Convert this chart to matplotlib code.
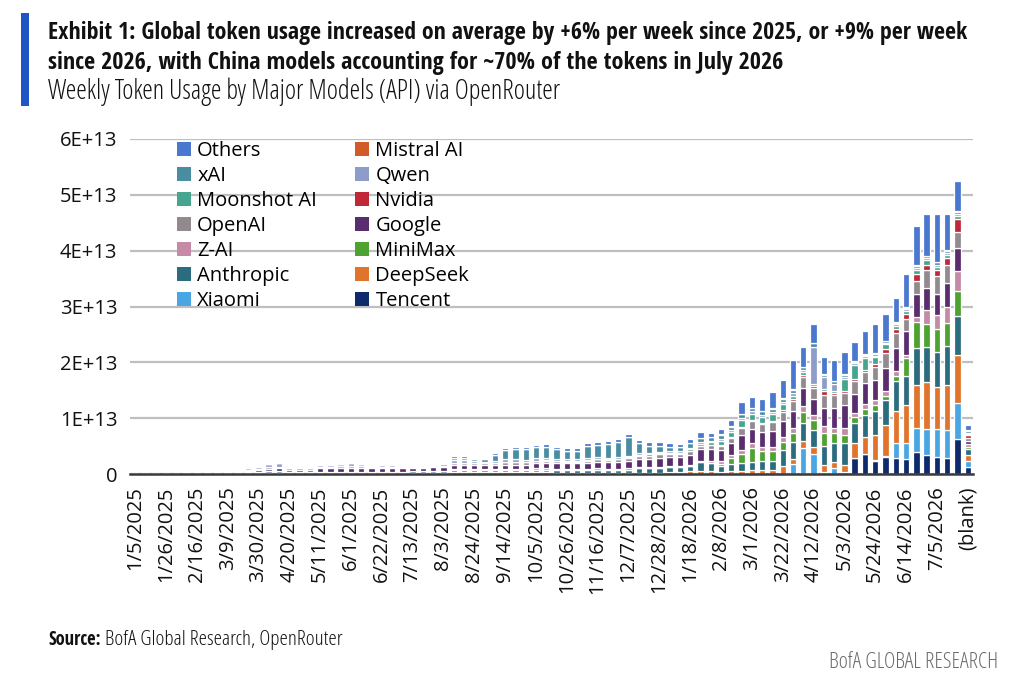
import numpy as np
import pandas as pd
import matplotlib
matplotlib.use("Agg")
import matplotlib.pyplot as plt
import matplotlib.font_manager as fm
from matplotlib.font_manager import FontProperties
from matplotlib.patches import Patch, Rectangle

# ---------------- data (units: 1E+12 tokens) ----------------
categories = [d.strftime('%-m/%-d/%Y') for d in pd.date_range('2025-01-05', periods=81, freq='7D')] + ['(blank)']

tick_labels = ['1/5/2025', '1/26/2025', '2/16/2025', '3/9/2025', '3/30/2025', '4/20/2025', '5/11/2025',
               '6/1/2025', '6/22/2025', '7/13/2025', '8/3/2025', '8/24/2025', '9/14/2025', '10/5/2025',
               '10/26/2025', '11/16/2025', '12/7/2025', '12/28/2025', '1/18/2026', '2/8/2026', '3/1/2026',
               '3/22/2026', '4/12/2026', '5/3/2026', '5/24/2026', '6/14/2026', '7/5/2026', '(blank)']

tencent = [0]*70 + [2.9, 3.5, 2.4, 3.0, 2.8, 2.7, 3.9, 3.4, 3.1, 2.9, 6.3, 1.2]

xiaomi = [0]*64 + [1.8, 4.7, 3.6, 0.4, 1.0, 0.3, 0, 0, 0.1, 0.2, 2.8, 2.8, 4.3, 4.6, 5.0, 5.0, 6.5, 1.2]

deepseek = ([0]*11 + [0.1, 0.1] + [0.1]*14 + [0.2]*4 + [0.3]*10 + [0.1]*7 +
            [0.2, 0.2, 0.2, 0.2, 0.4, 0.4, 0.5, 0.5, 0.5] +
            [0.4, 0.5, 0.6, 0.7, 0.7, 0.7, 1.5, 0.9, 1.2, 1.3, 1.3, 1.1, 1.3, 2.6, 3.2, 4.4, 5.5, 5.6,
             6.9, 7.7, 8.4, 7.5, 8.1, 8.6, 1.0])

anthropic = ([0.05, 0.05, 0.05, 0.05, 0.1, 0.1, 0.1, 0.1, 0.2, 0.2, 0.2, 0.2, 0.3] +
             [0.4, 0.4] + [0.3]*12 +
             [0.3, 0.3, 0.4, 0.4] + [0.5]*10 +
             [0.6, 0.6, 0.6, 0.6, 0.7, 0.6, 0.6, 0.6] +
             [0.8, 0.8, 0.8, 0.8, 0.8, 1.0, 1.6, 1.4] +
             [1.1, 1.3, 1.4, 1.5, 1.6, 1.7, 2.8, 3.0, 3.2, 2.9, 3.3, 3.4, 4.0, 3.6, 3.8, 4.4, 4.6, 5.5,
              5.1, 6.7, 6.4, 6.3, 6.9, 6.9, 1.0])

minimax = [0]*56 + [0.1, 0.3, 1.1, 1.6, 2.4, 1.8, 1.7, 1.4, 1.6, 2.0, 1.8, 2.3, 1.8, 1.4, 1.1, 1.1,
                    1.0, 0.7, 0.9, 3.2, 4.6, 4.1, 4.0, 4.2, 4.4, 0.5]

zai = ([0]*31 + [0.1]*8 + [0.2, 0.2] + [0.2]*7 +
       [0.3, 0.3, 0.3, 0.3, 0.3, 0.2, 0.2, 0.3, 0.4, 0.5, 0.5, 0.7, 0.9, 0.8, 0.8, 1.0, 1.0, 1.1,
        1.0, 1.3, 1.0, 1.3, 0.8, 0.9, 0.9, 0.9, 0.9, 0.7, 1.0, 2.5, 2.6, 2.9, 3.7, 0.4])

google = ([0, 0, 0, 0.05, 0.05, 0.1, 0.1, 0.1, 0.1, 0.1, 0.2, 0.2, 0.3] +
          [0.4, 0.5, 0.4, 0.4, 0.4, 0.6, 0.6, 0.7, 0.7, 0.7, 0.6, 0.7, 0.7, 0.6] +
          [0.5, 0.6, 0.6, 0.7, 0.8, 0.8, 0.7, 0.7] +
          [0.8, 0.8, 0.8, 0.8, 0.9, 1.0, 1.0, 1.0, 1.0, 1.1, 1.2, 1.2, 1.3, 1.3] +
          [1.4, 1.4, 1.5, 1.5, 1.6, 1.7, 2.0, 2.0] +
          [2.0, 2.2, 2.6, 2.6, 2.6, 2.8, 2.8, 3.0, 3.2, 2.9, 3.3, 3.5, 4.0, 3.3, 3.8, 3.7, 4.0, 4.0,
           4.2, 4.0, 3.9, 3.8, 4.2, 4.0, 0.7])

openai = ([0.05, 0.05, 0.05, 0.05, 0.05, 0.1, 0.1, 0.1, 0.1, 0.2, 0.2, 0.2, 0.2] +
          [0.3, 0.3, 0.2, 0.2, 0.2, 0.3, 0.3, 0.3, 0.4, 0.3, 0.2, 0.2, 0.2, 0.2] +
          [0.2, 0.2, 0.2, 0.2, 0.3, 0.3, 0.3, 0.3] +
          [0.3, 0.4, 0.4, 0.4, 0.4, 0.4, 0.4, 0.3, 0.3, 0.4, 0.4, 0.4, 0.4, 0.4] +
          [0.5, 0.6, 0.7, 0.6, 0.6, 0.7, 0.7, 0.8] +
          [0.8, 0.9, 1.3, 1.4, 1.5, 1.6, 1.6, 1.8, 2.0, 1.9, 2.3, 2.3, 2.2, 2.4, 2.0, 2.2, 2.8, 2.8,
           2.1, 2.4, 3.3, 3.1, 3.2, 2.9, 0.5])

nvidia = [0]*57 + [0.1, 0.1, 0.2, 0.2, 0.2, 0.2, 0.3, 0.3, 0.3, 0.4, 0.6, 0.4, 0.3, 0.3, 0.4, 0.6,
                   0.6, 0.6, 0.9, 1.2, 0.9, 1.1, 1.3, 2.4, 0.4]

moonshot = ([0]*36 + [0.1]*12 +
            [0.2, 0.2, 0.2, 0.2, 0.2, 0.2, 0.3, 0.3, 0.5, 0.8, 1.0, 1.2, 1.1, 1.0, 1.2, 1.1, 0.5, 0.5,
             0.4, 0.4, 0.4, 2.3, 2.5, 2.1, 1.2, 0.9, 0.6, 0.6, 0.8, 0.8, 0.6, 0.5, 0.5, 0.3])

qwen = ([0, 0, 0, 0, 0, 0, 0.1, 0.2, 0.2, 0.2, 0.2, 0.3, 0.3] +
        [0.6, 0.7, 0.2, 0.2, 0.2, 0.3, 0.4, 0.4, 0.5, 0.4, 0.3, 0.3, 0.3, 0.2] +
        [0.2, 0.2, 0.3, 0.3, 0.5, 0.5, 0.4, 0.3] +
        [0.3, 0.4, 0.4, 0.3, 0.4, 0.4, 0.3, 0.3, 0.3, 0.3, 0.3, 0.3, 0.3, 0.3] +
        [0.3]*8 +
        [0.3, 0.3, 0.4, 0.4, 0.4, 0.4, 0.4, 0.6, 0.5, 6.5, 2.2, 1.3, 0.3, 0.3, 0.3, 0.3, 0.3, 0.3,
         0.3, 0.3, 0.3, 0.4, 0.4, 0.3, 0.2])

xai = ([0]*28 + [0.1, 0.1, 0.2, 0.4, 0.4, 0.4, 0.5] +
       [1.1, 1.7, 1.9, 2.0, 2.1, 2.0, 1.8, 1.6, 1.6, 2.2, 2.2, 2.5, 2.7, 3.3] +
       [1.8, 1.3, 1.1, 0.8, 0.7, 0.8, 0.8, 0.6] +
       [0.7, 0.6, 0.7, 0.6, 0.6, 0.6, 0.6, 0.6, 0.4, 0.7, 0.4, 0.4, 0.4, 0.3, 0.3, 0.3, 0.3, 0.3,
        0.3, 0.4, 0.4, 0.4, 0.4, 0.4, 0.3])

mistral = [0]*57 + [0.1]*23 + [0.2, 0.1]

others = ([0]*13 + [0.1]*14 +
          [0.1, 0.1, 0.1, 0.2, 0.3, 0.3, 0.2, 0.2] +
          [0.3, 0.3, 0.3, 0.3, 0.3, 0.4, 0.4, 0.4, 0.4, 0.5, 0.5, 0.5, 0.5, 0.5] +
          [0.6, 0.6, 0.6, 0.6, 0.6, 0.7, 1.0, 0.7] +
          [0.9, 1.1, 2.1, 1.9, 2.1, 2.8, 3.2, 5.2, 3.6, 3.4, 3.0, 3.7, 4.0, 3.5, 4.1, 5.2, 4.8, 4.4,
           6.0, 7.0, 7.4, 8.5, 6.4, 5.3, 1.0])

# stacking order, bottom to top
series_names = ['Tencent', 'Xiaomi', 'DeepSeek', 'Anthropic', 'MiniMax', 'Z-AI', 'Google', 'OpenAI',
                'Nvidia', 'Moonshot AI', 'Qwen', 'xAI', 'Mistral AI', 'Others']
series_values = [tencent, xiaomi, deepseek, anthropic, minimax, zai, google, openai,
                 nvidia, moonshot, qwen, xai, mistral, others]
series_colors = ['#0E2A6A', '#4AA6E3', '#E0742C', '#2C6C7F', '#4DA232', '#C48AA6', '#5A2D6E', '#928A8E',
                 '#C0283A', '#46A58E', '#8D9CC9', '#4A8DA0', '#D05A28', '#4A78CF']
UNIT = 1e12


# ---------------- fonts: look for a condensed face ----------------
def _is_bold(w):
    try:
        return int(w) >= 600
    except (TypeError, ValueError):
        return str(w).lower() in ('bold', 'semibold', 'demibold', 'heavy', 'black', 'extra bold')


def find_condensed(bold):
    prefs = ['Open Sans', 'Noto Sans', 'Roboto', 'Liberation Sans', 'DejaVu Sans']
    found = []
    for f in fm.fontManager.ttflist:
        nm = f.name
        st = str(f.stretch).lower()
        cond = ('narrow' in nm.lower() or 'condensed' in nm.lower() or 'condensed' in st
                or 'condensed' in f.fname.lower() or 'narrow' in f.fname.lower())
        if not cond or 'italic' in str(f.style).lower() or 'italic' in f.fname.lower():
            continue
        if 'extra' in st or 'ultra' in st or 'extracondensed' in f.fname.lower().replace('-', ''):
            continue
        if _is_bold(f.weight) != bold:
            continue
        rank = len(prefs)
        for i, p in enumerate(prefs):
            if nm.startswith(p):
                rank = i
                break
        found.append((rank, f.fname))
    if found:
        found.sort()
        return FontProperties(fname=found[0][1])
    return FontProperties(family=['Liberation Sans', 'DejaVu Sans'], weight='bold' if bold else 'normal')


fp_bold = find_condensed(True)
fp_reg = find_condensed(False)

# ---------------- figure ----------------
W, H = 1016, 684
fig = plt.figure(figsize=(W / 100, H / 100), dpi=100)
base = ['Open Sans', 'DejaVu Sans']

ax = fig.add_axes([129.9 / W, 1 - 474 / H, 843 / W, 335 / H])
x = np.arange(len(categories))
bottom = np.zeros(len(categories))
for name, vals, col in zip(series_names, series_values, series_colors):
    v = np.array(vals, dtype=float) * UNIT
    ax.bar(x, v, bottom=bottom, width=0.62, color=col, edgecolor='white', linewidth=0.9, label=name,
           zorder=3)
    bottom += v

ax.set_xlim(-0.5, len(categories) - 0.5)
ax.set_ylim(0, 6e13)
ax.set_yticks(np.arange(0, 6.01e13, 1e13))
ax.set_yticklabels(['0', '1E+13', '2E+13', '3E+13', '4E+13', '5E+13', '6E+13'], fontfamily=base, fontsize=14.5)
ax.yaxis.grid(True, color='#BFBFBF', linewidth=1.6, zorder=0)
ax.set_axisbelow(True)
for s in ['left', 'right', 'top']:
    ax.spines[s].set_visible(False)
ax.spines['bottom'].set_color('#3A3A3A')
ax.spines['bottom'].set_linewidth(1.8)
ax.spines['bottom'].set_zorder(5)
ax.tick_params(axis='y', length=0, pad=9, colors='#111111')
tick_pos = [categories.index(t) for t in tick_labels]
ax.set_xticks(tick_pos)
ax.set_xticklabels(tick_labels, rotation=90, fontfamily=base, fontsize=14.5, color='#111111')
ax.tick_params(axis='x', length=0, pad=9)

# legend: row-wise two columns
rev = list(zip(series_names, series_colors))[::-1]
ordered = rev[0::2] + rev[1::2]
handles = [Patch(facecolor=c, edgecolor='none') for _, c in ordered]
labels = [n for n, _ in ordered]
ax.legend(handles, labels, ncol=2, loc='upper left', bbox_to_anchor=(0.056, 0.995), frameon=False,
          prop={'family': base, 'size': 14.5}, handlelength=0.7, handleheight=0.7,
          handletextpad=0.3, labelspacing=0.25, columnspacing=1.9, borderpad=0, borderaxespad=0)

# titles
fig.add_artist(Rectangle((21 / W, 1 - 106 / H), 8 / W, 93 / H, transform=fig.transFigure,
                         facecolor='#1F55C5', edgecolor='none'))


def fitted_text(xp, yp, s, fp, size, target_w=None, **kw):
    f = fp.copy()
    f.set_size(size)
    t = fig.text(xp / W, 1 - yp / H, s, fontproperties=f, va='center', **kw)
    if target_w is not None:
        fig.canvas.draw()
        w = t.get_window_extent().width
        f2 = fp.copy()
        f2.set_size(size * target_w / w)
        t.set_fontproperties(f2)
    return t


fitted_text(48, 33, 'Exhibit 1: Global token usage increased on average by +6% per week since 2025, or +9% per week',
            fp_bold, 16, target_w=920, ha='left', color='#111111')
fitted_text(48, 63, 'since 2026, with China models accounting for ~70% of the tokens in July 2026',
            fp_bold, 16, target_w=735, ha='left', color='#111111')
fitted_text(48, 92, 'Weekly Token Usage by Major Models (API) via OpenRouter',
            fp_reg, 16, target_w=512, ha='left', color='#111111')

# footer
t = fitted_text(48, 640, 'Source:', fp_bold, 12, target_w=53, ha='left', color='#111111')
fig.canvas.draw()
bb = t.get_window_extent()
fitted_text(bb.x1 + 4, 640, 'BofA Global Research, OpenRouter', fp_reg, 12, target_w=235,
            ha='left', color='#111111')
fitted_text(998, 662, 'BofA GLOBAL RESEARCH', fp_reg, 12, target_w=168, ha='right', color='#6B6B6B')

fig.savefig('out.png', dpi=100)
